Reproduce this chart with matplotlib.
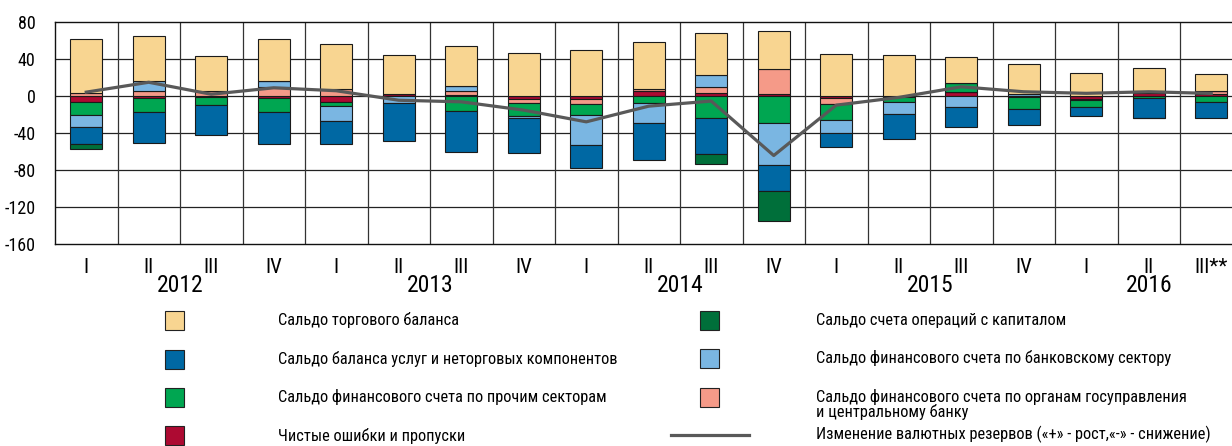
import matplotlib
matplotlib.use('Agg')
import matplotlib.pyplot as plt
import matplotlib.transforms as mtrans
from matplotlib import font_manager
from matplotlib.patches import Rectangle
from matplotlib.lines import Line2D
import numpy as np

# pick a condensed font if one is around
names = set(f.name for f in font_manager.fontManager.ttflist)
fam = 'DejaVu Sans'
for cand in ['Liberation Sans Narrow', 'Roboto Condensed', 'DejaVu Sans Condensed']:
    if cand in names:
        fam = cand
        break
plt.rcParams['font.family'] = [fam, 'DejaVu Sans']
if fam == 'DejaVu Sans':
    plt.rcParams['font.stretch'] = 'condensed'

# data, bln USD, 2012 Q1 .. 2016 Q3
quarters = ['I', 'II', 'III', 'IV'] * 4 + ['I', 'II', 'III**']
years = ['2012', '2013', '2014', '2015', '2016']
year_pos = [1.5, 5.5, 9.5, 13.5, 17.0]

errors   = [-6.0, -2.5, -0.5, -1.8, -6.2, 2.0, 1.0, -2.9, -3.3, 5.4, 3.6, 1.8, -2.2, -0.7, 4.3, -0.5, -2.9, 3.6, 2.0]
gov      = [3.0, 5.8, 5.0, 9.4, 7.2, 0.0, 4.4, -5.1, -5.8, 1.8, 5.8, 27.1, -6.9, 0.0, 0.0, 0.0, -0.8, 1.4, 3.0]
other    = [-14.0, -14.5, -9.0, -15.2, -4.7, 0.0, -16.5, -13.4, -10.9, -8.0, -24.2, -29.7, -16.3, -6.2, 10.1, -14.0, -8.3, -2.5, -6.0]
bank     = [-13.0, 10.1, 0.0, 6.5, -16.6, -7.0, 5.4, -1.8, -32.6, -21.0, 13.0, -45.2, -14.5, -13.0, -12.0, 2.0, 0.0, 0.0, 0.0]
services = [-19.2, -33.3, -33.0, -35.0, -23.9, -41.3, -44.2, -38.7, -25.0, -39.8, -39.1, -28.2, -15.6, -27.1, -21.4, -16.3, -10.1, -21.0, -17.4]
capital  = [-4.7, 0, 0, 0, 0, 0, 0, 0, 0, 0, -10.1, -31.8, 0, 0, 0, 0, 0, -0.7, 0]
trade    = [58.5, 49.2, 38.8, 45.6, 48.9, 42.9, 43.4, 46.3, 50.3, 51.0, 45.6, 41.6, 45.6, 44.5, 28.2, 32.7, 24.6, 25.4, 18.8]
reserves = [4.3, 15.0, 2.0, 9.0, 5.8, -4.5, -6.2, -15.2, -27.9, -10.9, -5.4, -64.4, -9.8, -1.4, 10.1, 4.7, 3.0, 4.7, 2.9]

c_trade = '#f8d591'
c_serv = '#0068a3'
c_other = '#00a651'
c_err = '#ad0a32'
c_cap = '#006f3a'
c_bank = '#7ab6e2'
c_gov = '#f59a88'
c_line = '#595959'

# stacking order (from zero outward)
stack = [(errors, c_err), (gov, c_gov), (other, c_other), (bank, c_bank),
         (services, c_serv), (capital, c_cap), (trade, c_trade)]

W, H = 1232, 446
fig = plt.figure(figsize=(W / 100, H / 100), dpi=100)
ax_l, ax_r, ax_t, ax_b = 55, 55 + 19 * 62.5, 22.3, 243.7
ax = fig.add_axes([ax_l / W, 1 - ax_b / H, (ax_r - ax_l) / W, (ax_b - ax_t) / H])

x = np.arange(len(quarters))
pos = np.zeros(len(x))
neg = np.zeros(len(x))
for vals, col in stack:
    v = np.array(vals, dtype=float)
    bottom = np.where(v >= 0, pos, neg)
    ax.bar(x, v, bottom=bottom, width=0.51, color=col, edgecolor='#1a1a1a',
           linewidth=0.8, zorder=3)
    pos = pos + np.where(v > 0, v, 0)
    neg = neg + np.where(v < 0, v, 0)

ax.plot(x, reserves, color=c_line, lw=2.3, zorder=4)

ax.set_xlim(-0.5, len(x) - 0.5)
ax.set_ylim(-160, 80)
ax.set_yticks([-160, -120, -80, -40, 0, 40, 80])
ax.set_yticklabels(['-160', '-120', '-80', '-40', '0', '40', '80'], fontsize=13)
ax.set_xticks(x)
ax.set_xticklabels(quarters, fontsize=15)
ax.tick_params(axis='both', length=0)
ax.tick_params(axis='y', pad=14)
ax.tick_params(axis='x', pad=10)

for yv in [-120, -80, -40, 0, 40]:
    ax.axhline(yv, color='#222222', lw=0.9, zorder=1)
for xv in np.arange(0.5, len(x) - 0.5, 1):
    ax.axvline(xv, color='#333333', lw=0.9, zorder=1)
for s in ax.spines.values():
    s.set_color('#111111')
    s.set_linewidth(1.0)

tr = mtrans.blended_transform_factory(ax.transData, fig.transFigure)
for yr, p in zip(years, year_pos):
    ax.text(p, 1 - 286 / H, yr, transform=tr, ha='center', va='center', fontsize=17)

# legend, drawn by hand
def fx(px):
    return px / W

def fy(py):
    return 1 - py / H

lfs = 11.8
left_items = [(c_trade, 'Сальдо торгового баланса', 320),
              (c_serv, 'Сальдо баланса услуг и неторговых компонентов', 359),
              (c_other, 'Сальдо финансового счета по прочим секторам', 397),
              (c_err, 'Чистые ошибки и пропуски', 435.5)]
right_items = [(c_cap, 'Сальдо счета операций с капиталом', 320),
               (c_bank, 'Сальдо финансового счета по банковскому сектору', 358),
               (c_gov, 'Сальдо финансового счета по органам госуправления\nи центральному банку', 397)]

for col, txt, yc in left_items:
    fig.add_artist(Rectangle((fx(164.5), fy(yc + 9.5)), 19 / W, 19 / H,
                             transform=fig.transFigure, facecolor=col,
                             edgecolor='#222222', lw=0.8))
    fig.text(fx(278), fy(yc), txt, ha='left', va='center', fontsize=lfs)

for col, txt, yc in right_items:
    fig.add_artist(Rectangle((fx(699.5), fy(yc + 9.5)), 19 / W, 19 / H,
                             transform=fig.transFigure, facecolor=col,
                             edgecolor='#222222', lw=0.8))
    if '\n' in txt:
        fig.text(fx(816), fy(yc - 8), txt, ha='left', va='top', fontsize=lfs,
                 linespacing=0.9)
    else:
        fig.text(fx(816), fy(yc), txt, ha='left', va='center', fontsize=lfs)

fig.add_artist(Line2D([fx(671), fx(749)], [fy(435), fy(435)], transform=fig.transFigure,
                      color=c_line, lw=2.3))
fig.text(fx(816), fy(434), 'Изменение валютных резервов («+» - рост,«-» - снижение)',
         ha='left', va='center', fontsize=lfs)

fig.savefig('out.png', dpi=100)
